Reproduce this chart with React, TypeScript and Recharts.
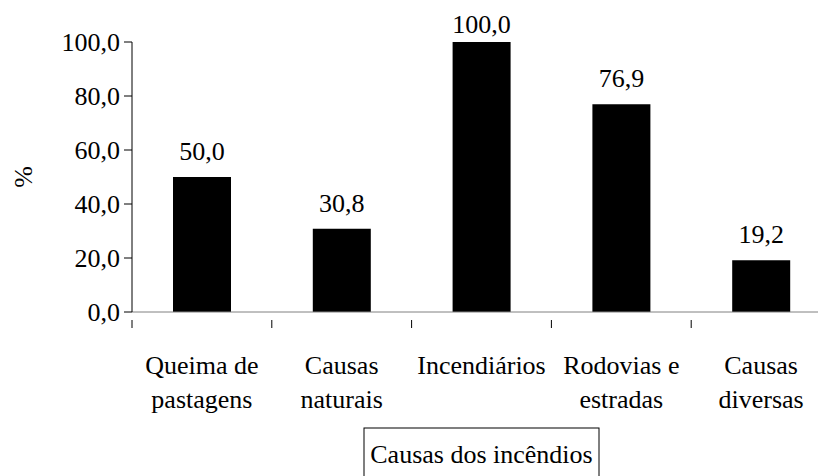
import React from 'react';
import { BarChart, Bar, XAxis, YAxis, LabelList } from 'recharts';

const categories = ['Queima de\npastagens', 'Causas\nnaturais', 'Incendiários', 'Rodovias e\nestradas', 'Causas\ndiversas'];
const percentValues = [50.0, 30.8, 100.0, 76.9, 19.2];
const yTicks = [0, 20, 40, 60, 80, 100];
const xTitle = 'Causas dos incêndios';
const yTitle = '%';

const data = categories.map((c, i) => ({ causa: c, valor: percentValues[i] }));

const FONT = 'Liberation Serif, Times New Roman, DejaVu Serif, serif';
const TXT = { fontFamily: FONT, fontSize: 26 };
const W = 831;
const H = 476;
const LEFT = 132;
const BAND = (W - LEFT) / categories.length;

const fmt = (v: number) => v.toFixed(1).replace('.', ',');

function CategoryTick(props: any) {
  const { x, y, payload } = props;
  const lines = String(payload.value).split('\n');
  const edge = x - BAND / 2;
  return (
    <g>
      <line x1={edge} y1={y} x2={edge} y2={y + 8} stroke="#000" strokeWidth={1} />
      <text x={x} y={y + 54} textAnchor="middle" style={TXT} fill="#000">
        {lines.map((l, i) => (
          <tspan key={i} x={x} dy={i === 0 ? 0 : 34}>{l}</tspan>
        ))}
      </text>
    </g>
  );
}

function BoxTitle(props: any) {
  const vb = props.viewBox || {};
  const cx = vb.x + vb.width / 2;
  return (
    <g>
      <rect x={cx - 117.5} y={428} width={235} height={60} fill="#fff" stroke="#000" strokeWidth={1} />
      <text x={cx} y={463} textAnchor="middle" style={TXT} fill="#000">{xTitle}</text>
    </g>
  );
}

function SideTitle(props: any) {
  const vb = props.viewBox || {};
  const cy = vb.y + vb.height / 2;
  return (
    <text x={23} y={cy} transform={`rotate(-90, 23, ${cy})`} textAnchor="middle" dominantBaseline="central"
      style={TXT} fill="#000">{yTitle}</text>
  );
}

function ValueLabel(props: any) {
  const { x, y, width, value } = props;
  return (
    <text x={x + width / 2} y={Math.max(y - 17, 33)} textAnchor="middle" style={TXT} fill="#000">
      {fmt(value)}
    </text>
  );
}

export default function App() {
  return (
    <div style={{ position: 'absolute', left: 0, top: 0, width: 818, height: 476, overflow: 'hidden', background: '#fff', fontFamily: FONT }}>
      <BarChart width={W} height={H} data={data} margin={{ top: 42, right: 0, bottom: 0, left: 0 }} style={{ fontFamily: FONT }}>
        <XAxis dataKey="causa" height={164} interval={0} tickLine={false} axisLine={{ stroke: '#808080' }}
          tick={<CategoryTick />} label={<BoxTitle />} />
        <YAxis domain={[0, 100]} ticks={yTicks} width={LEFT} tickFormatter={fmt} tickSize={8} tickMargin={4}
          axisLine={{ stroke: '#000' }} tickLine={{ stroke: '#000' }}
          tick={{ fontFamily: FONT, fontSize: 26, fill: '#000', style: TXT }} label={<SideTitle />} />
        <Bar dataKey="valor" fill="#000" barSize={58} isAnimationActive={false}>
          <LabelList dataKey="valor" content={<ValueLabel />} />
        </Bar>
      </BarChart>
    </div>
  );
}
